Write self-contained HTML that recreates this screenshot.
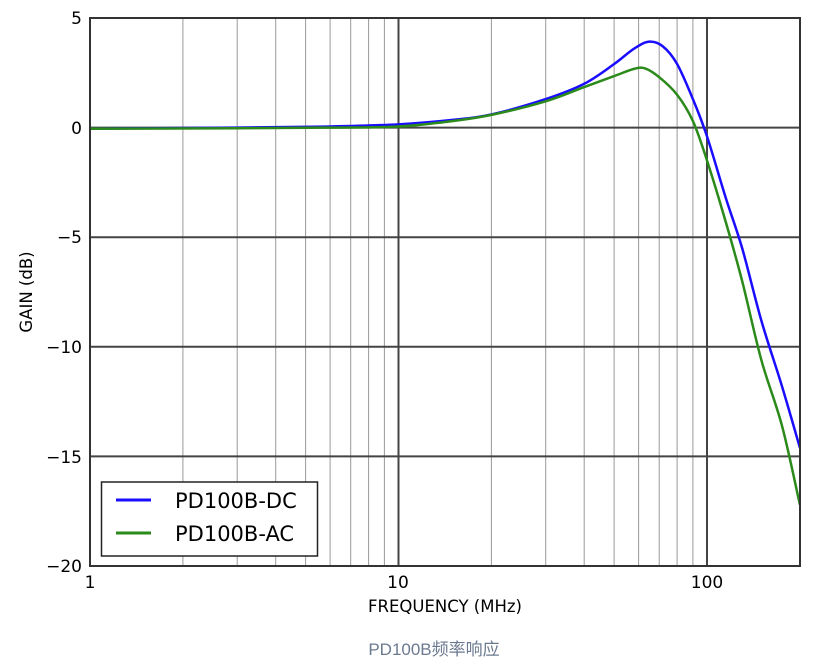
<!DOCTYPE html>
<html><head><meta charset="utf-8"><style>
body{margin:0;background:#fff;width:817px;height:662px;overflow:hidden}
svg{position:absolute;left:0;top:0}
text{font-family:"DejaVu Sans","Liberation Sans",sans-serif;fill:#000}
</style></head><body>
<svg id="s" width="817" height="662" xmlns="http://www.w3.org/2000/svg"></svg>
<script>
const s=document.getElementById('s');
const X0=90,DEC=308.5,Y0=127.6,DB=21.92;
const fx=f=>X0+Math.log10(f)*DEC, fy=g=>Y0-g*DB;
let h='';
for(let d=0;d<3;d++)for(let m=2;m<10;m++){const f=m*Math.pow(10,d);if(f>=200)continue;const x=fx(f).toFixed(1);h+=`<line x1="${x}" y1="18" x2="${x}" y2="566" stroke="#999" stroke-width="1"/>`;}
[10,100].forEach(f=>{const x=fx(f).toFixed(1);h+=`<line x1="${x}" y1="18" x2="${x}" y2="566" stroke="#444" stroke-width="2"/>`;});
[0,-5,-10,-15].forEach(g=>{const y=fy(g).toFixed(1);h+=`<line x1="90" y1="${y}" x2="800" y2="${y}" stroke="#444" stroke-width="2"/>`;});
function path(pts,col){
 const P=pts.map(p=>[fx(p[0]),fy(p[1])]);let d=`M${P[0][0]},${P[0][1]}`;
 for(let i=0;i<P.length-1;i++){const p0=P[Math.max(0,i-1)],p1=P[i],p2=P[i+1],p3=P[Math.min(P.length-1,i+2)];
 d+=` C${p1[0]+(p2[0]-p0[0])/6},${p1[1]+(p2[1]-p0[1])/6} ${p2[0]-(p3[0]-p1[0])/6},${p2[1]-(p3[1]-p1[1])/6} ${p2[0]},${p2[1]}`;}
 return `<path d="${d}" fill="none" stroke="${col}" stroke-width="2.5"/>`;}
const dc=[[1,-0.05],[3,0],[6,0.05],[10,0.15],[15,0.35],[20,0.6],[30,1.3],[40,2.0],[50,2.9],[58,3.6],[65,3.92],[72,3.7],[80,2.9],[90,1.3],[100,-0.4],[115,-3.2],[130,-5.5],[150,-8.8],[175,-11.8],[200,-14.6]];
const ac=[[1,-0.05],[3,-0.03],[6,0],[10,0.05],[15,0.3],[20,0.58],[30,1.2],[40,1.85],[50,2.35],[58,2.68],[63,2.7],[70,2.3],[80,1.5],[90,0.3],[100,-1.5],[115,-4.3],[130,-7],[150,-10.6],[175,-13.6],[200,-17.2]];
h+=path(dc,'#1a0dff')+path(ac,'#2a8a1a');
h+=`<rect x="90" y="18" width="710" height="548" fill="none" stroke="#333" stroke-width="2"/>`;
[[5,18],[0,128],['−5',237],['−10',347],['−15',457],['−20',566]].forEach(t=>h+=`<text x="82" y="${t[1]+6}" font-size="17" text-anchor="end">${t[0]}</text>`);
[[1,90],[10,398],[100,707]].forEach(t=>h+=`<text x="${t[1]}" y="588" font-size="17" text-anchor="middle">${t[0]}</text>`);
h+=`<text x="445" y="612" font-size="16.5" text-anchor="middle">FREQUENCY (MHz)</text>`;
h+=`<text transform="translate(32,292) rotate(-90)" font-size="16.5" text-anchor="middle">GAIN (dB)</text>`;
h+=`<rect x="101.5" y="482" width="216" height="74" fill="#fff" stroke="#222" stroke-width="1.5"/>`;
h+=`<line x1="116" y1="500" x2="151" y2="500" stroke="#1a0dff" stroke-width="3"/><text x="175" y="508" font-size="21">PD100B-DC</text>`;
h+=`<line x1="116" y1="533" x2="151" y2="533" stroke="#2a8a1a" stroke-width="3"/><text x="175" y="541" font-size="21">PD100B-AC</text>`;
h+=`<text x="434" y="655" font-size="17" text-anchor="middle" style="fill:#6b7a90;font-family:'Liberation Sans','Noto Sans CJK SC',sans-serif">PD100B频率响应</text>`;
s.innerHTML=h;
</script>
</body></html>
